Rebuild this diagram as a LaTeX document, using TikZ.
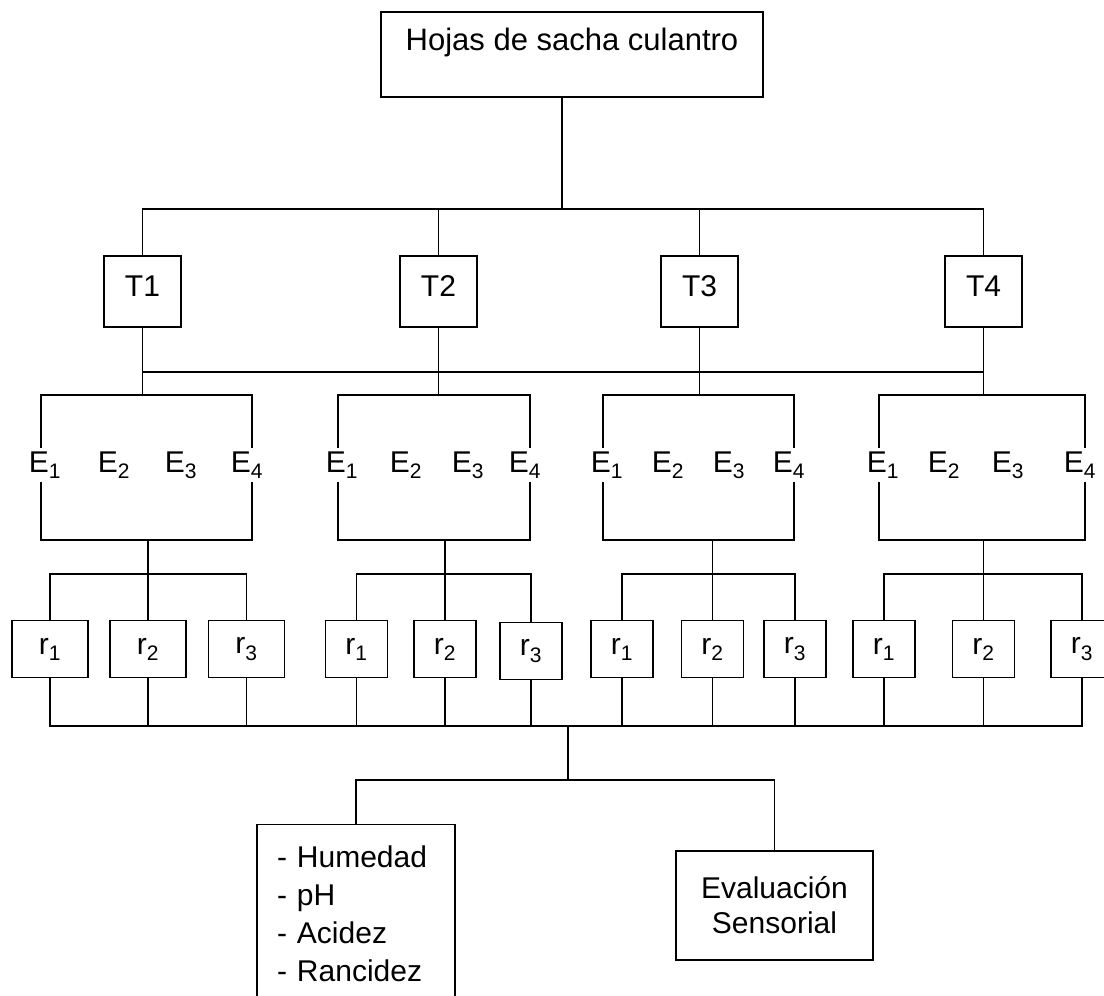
\documentclass[tikz,border=0pt]{standalone}
\usepackage{fontspec}
\setmainfont{Liberation Sans}
\tikzset{
  every node/.style={font=\fontsize{30}{38}\selectfont},
  boxed/.style={draw, line width=1.4pt},
  topbox/.style={boxed, minimum width=382pt, inner ysep=0pt, text height=38pt, text depth=47pt, font=\fontsize{31}{38}\selectfont},
  tbox/.style={boxed, minimum width=77pt, minimum height=71pt, text depth=10pt},
  rbox/.style={boxed, minimum width=62pt, minimum height=57pt},
  rwide/.style={minimum width=76pt},
}
\begin{document}
\begin{tikzpicture}[x=1pt,y=-1pt,line width=1.4pt]
      \useasboundingbox (0,0) rectangle (1104,996);
      \draw
        (572,54.5) node[topbox] (top){Hojas de sacha culantro}
        (142.5,291.5) node[tbox] (t1){T1}
        (438.5,291.5) node[tbox] (t2){T2}
        (699.5,291.5) node[tbox] (t3){T3}
        (983.5,291.5) node[tbox] (t4){T4};
      \draw
        (45,465) node (e11){E\textsubscript{1}}
        (114,465) node (e12){E\textsubscript{2}}
        (181,465) node (e13){E\textsubscript{3}}
        (247,465) node (e14){E\textsubscript{4}}
        (342,465) node (e21){E\textsubscript{1}}
        (406,465) node (e22){E\textsubscript{2}}
        (468,465) node (e23){E\textsubscript{3}}
        (525,465) node (e24){E\textsubscript{4}}
        (607,465) node (e31){E\textsubscript{1}}
        (668,465) node (e32){E\textsubscript{2}}
        (729,465) node (e33){E\textsubscript{3}}
        (789,465) node (e34){E\textsubscript{4}}
        (883,465) node (e41){E\textsubscript{1}}
        (944,465) node (e42){E\textsubscript{2}}
        (1008,465) node (e43){E\textsubscript{3}}
        (1080,465) node (e44){E\textsubscript{4}};
      \draw
        (50,649) node[rbox,rwide] (r11){r\textsubscript{1}}
        (148,649) node[rbox,rwide] (r12){r\textsubscript{2}}
        (246.5,649) node[rbox,rwide] (r13){r\textsubscript{3}}
        (356.5,649) node[rbox] (r21){r\textsubscript{1}}
        (445,649) node[rbox] (r22){r\textsubscript{2}}
        (531,651) node[rbox] (r23){r\textsubscript{3}}
        (622,649) node[rbox] (r31){r\textsubscript{1}}
        (712.5,649) node[rbox] (r32){r\textsubscript{2}}
        (795,649) node[rbox] (r33){r\textsubscript{3}}
        (884,649) node[rbox] (r41){r\textsubscript{1}}
        (983.5,649) node[rbox] (r42){r\textsubscript{2}}
        (1082,649) node[rbox] (r43){r\textsubscript{3}};
      \node[boxed, anchor=north, minimum height=179pt, text width=158pt, inner xsep=20pt, align=left]
        (meas) at (356,824) {- Humedad\\- pH\\- Acidez\\- Rancidez};
      \node[boxed, minimum width=197pt, minimum height=109pt, align=center,
        font=\fontsize{30}{35}\selectfont] (sens) at (774.5,905.5) {Evaluación\\Sensorial};
      \coordinate (tfork) at (562,209);
      \coordinate (tbus) at (0,372);
      \coordinate (ebar) at (0,395);
      \coordinate (ebot) at (0,540);
      \coordinate (rbar) at (0,574);
      \coordinate (rbus) at (0,726);
      \coordinate (mfork) at (568,780);
      \begin{scope}[-]
        \draw (top.south -| tfork) to (tfork);
        \draw (t1.north) |- (tfork) -| (t4.north);
        \draw (t2.north) to (t2.north |- tfork);
        \draw (t3.north) to (t3.north |- tfork);
        \draw (t1.south |- tbus) to (t4.south |- tbus);
        \draw (t1.south) to (t1.south |- ebar);
        \draw (t2.south) to (t2.south |- ebar);
        \draw (t3.south) to (t3.south |- ebar);
        \draw (t4.south) to (t4.south |- ebar);
        \draw ([xshift=-4pt]e11.north) |- (t1.south |- ebar) -| ([xshift=5pt]e14.north);
        \draw ([xshift=-4pt]e21.north) |- (t2.south |- ebar) -| ([xshift=5pt]e24.north);
        \draw ([xshift=-4pt]e31.north) |- (t3.south |- ebar) -| ([xshift=5pt]e34.north);
        \draw ([xshift=-4pt]e41.north) |- (t4.south |- ebar) -| ([xshift=5pt]e44.north);
        \draw ([xshift=-4pt]e11.south) |- (r12.north |- ebot) -| ([xshift=5pt]e14.south);
        \draw ([xshift=-4pt]e21.south) |- (r22.north |- ebot) -| ([xshift=5pt]e24.south);
        \draw ([xshift=-4pt]e31.south) |- (r32.north |- ebot) -| ([xshift=5pt]e34.south);
        \draw ([xshift=-4pt]e41.south) |- (r42.north |- ebot) -| ([xshift=5pt]e44.south);
        \draw (r12.north |- ebot) to (r12.north);
        \draw (r22.north |- ebot) to (r22.north);
        \draw (r32.north |- ebot) to (r32.north);
        \draw (r42.north |- ebot) to (r42.north);
        \draw (r11.north) |- (r12.north |- rbar) -| (r13.north);
        \draw (r21.north) |- (r22.north |- rbar) -| (r23.north);
        \draw (r31.north) |- (r32.north |- rbar) -| (r33.north);
        \draw (r41.north) |- (r42.north |- rbar) -| (r43.north);
        \draw (r11.south) |- (r43.south |- rbus) to (r43.south);
        \draw (r12.south) to (r12.south |- rbus);
        \draw (r13.south) to (r13.south |- rbus);
        \draw (r21.south) to (r21.south |- rbus);
        \draw (r22.south) to (r22.south |- rbus);
        \draw (r23.south) to (r23.south |- rbus);
        \draw (r31.south) to (r31.south |- rbus);
        \draw (r32.south) to (r32.south |- rbus);
        \draw (r33.south) to (r33.south |- rbus);
        \draw (r41.south) to (r41.south |- rbus);
        \draw (r42.south) to (r42.south |- rbus);
        \draw (mfork |- rbus) to (mfork);
        \draw (meas.north) |- (mfork) -| (sens.north);
      \end{scope}
    \end{tikzpicture}
\end{document}
